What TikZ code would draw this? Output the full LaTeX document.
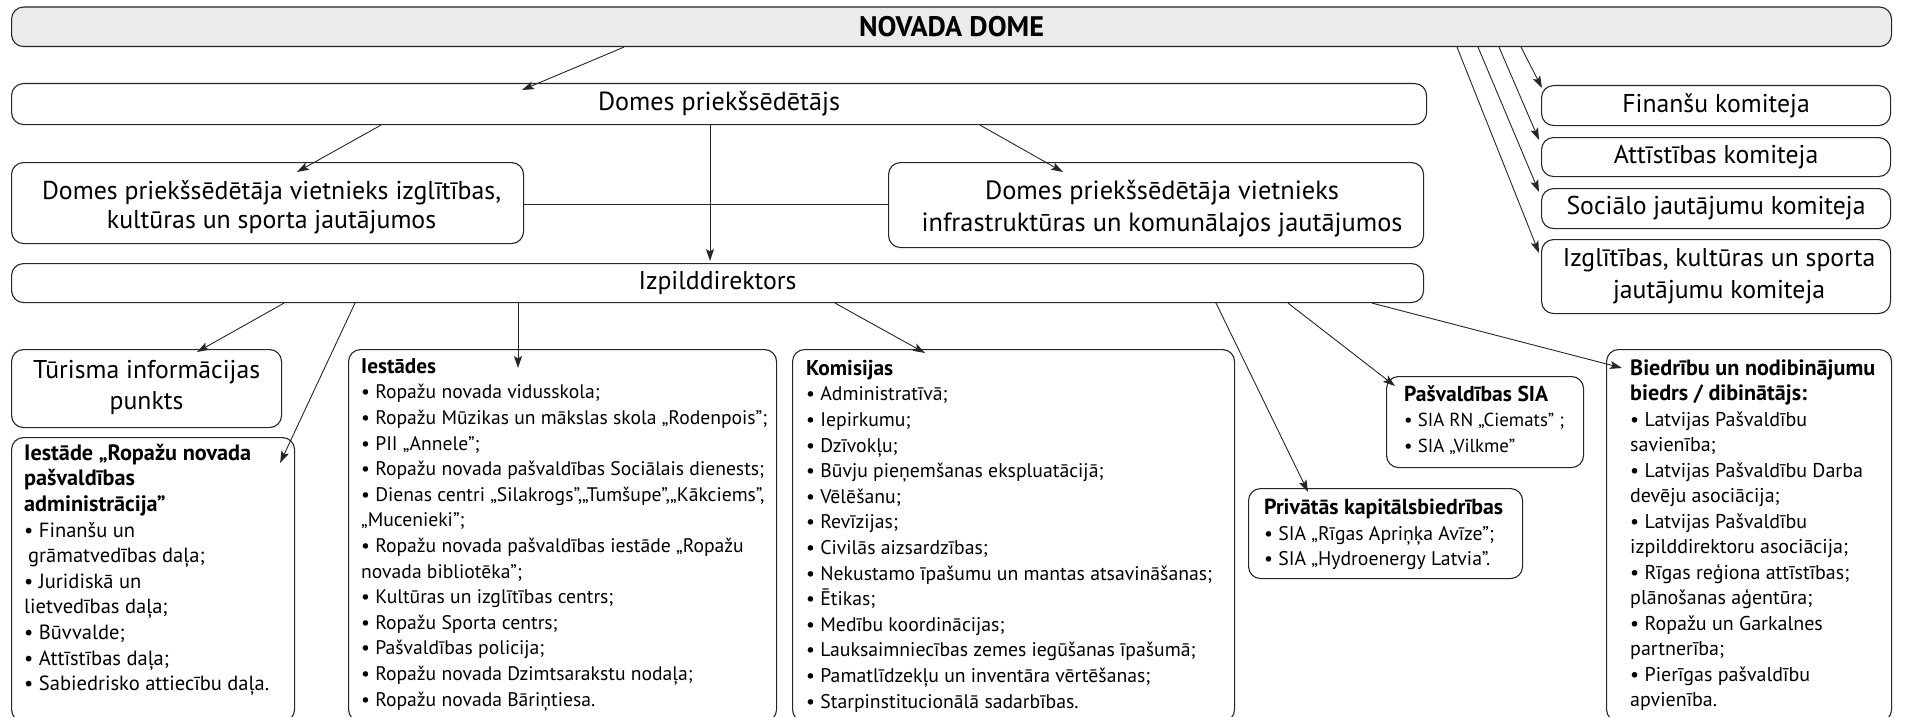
\documentclass[tikz,border=0pt]{standalone}
\usepackage{fontspec}
\setmainfont{PT Sans}
\usetikzlibrary{arrows.meta,calc}
\newlength\tmpw
\newcommand\calib[3]{\settowidth\tmpw{\fontsize{10pt}{12pt}\selectfont #3}\pgfmathsetmacro\calres{10*#2/\tmpw}\global\let#1\calres}
\newcommand\ttl[2]{{\fontsize{#1pt}{25.6pt}\selectfont\bfseries #2}}
\begin{document}
\calib\szDome{185}{\bfseries NOVADA DOME}
\calib\szPred{242}{Domes priekšsēdētājs}
\calib\szVl{459}{Domes priekšsēdētāja vietnieks izglītības,}
\calib\szVr{481}{infrastruktūras un komunālajos jautājumos}
\calib\szIzp{158}{Izpilddirektors}
\calib\szCom{299}{Sociālo jautājumu komiteja}
\calib\szTur{227}{Tūrisma informācijas}
\calib\szAdm{245}{• Sabiedrisko attiecību daļa.}
\calib\szAdmB{227}{\bfseries Iestāde „Ropažu novada}
\calib\szIest{403}{• Ropažu novada pašvaldības Sociālais dienests;}
\calib\szIestB{75}{\bfseries Iestādes}
\calib\szKom{406}{• Nekustamo īpašumu un mantas atsavināšanas;}
\calib\szKomB{87}{\bfseries Komisijas}
\calib\szPriv{230}{• SIA „Rīgas Apriņķa Avīze”;}
\calib\szPrivB{239}{\bfseries Privātās kapitālsbiedrības}
\calib\szPasv{160}{• SIA RN „Ciemats” ;}
\calib\szPasvB{144}{\bfseries Pašvaldības SIA}
\calib\szBied{218}{izpilddirektoru asociācija;}
\calib\szBiedB{245}{\bfseries Biedrību un nodibinājumu}
\begin{tikzpicture}[x=1pt,y=-1pt,
  box/.style={draw=black!85, line width=1.1pt, rounded corners=12pt, anchor=north west, inner sep=0pt},
  arr/.style={draw=black!85, line width=0.9pt, -{Stealth[length=12pt,width=8pt,inset=2.5pt]}},
  plain/.style={draw=black!85, line width=0.9pt},
  ctr/.style={anchor=north, align=center, inner sep=0pt},
  lst/.style={anchor=north west, align=left, inner sep=0pt},
]
\useasboundingbox (0,0) rectangle (1907,717);
\clip (0,0) rectangle (1907,717);

% top level
\node[box, fill=black!8, minimum width=1880pt, minimum height=39.5pt, font={\fontsize{\szDome pt}{27pt}\selectfont\bfseries}] (dome) at (11,6.5) {NOVADA DOME};
\node[box, minimum width=1415pt, minimum height=41pt, font={\fontsize{\szPred pt}{27pt}\selectfont}] (pred) at (11,83) {Domes priekšsēdētājs};
\node[box, minimum width=512pt, minimum height=81pt] (vl) at (11,162) {};
\node[ctr, font={\fontsize{\szVl pt}{29.3pt}\selectfont}] (vlT) at ($(vl.north)+(4,16.5)$) {\strut Domes priekšsēdētāja vietnieks izglītības,\\kultūras un sporta jautājumos};
\node[box, minimum width=535pt, minimum height=85pt] (vr) at (888,162) {};
\node[ctr, font={\fontsize{\szVr pt}{32.7pt}\selectfont}] (vrT) at ($(vr.north)+(6,14)$) {\strut Domes priekšsēdētāja vietnieks\\infrastruktūras un komunālajos jautājumos};
\node[box, minimum width=1412pt, minimum height=39pt, font={\fontsize{\szIzp pt}{27pt}\selectfont}] (izp) at (11,263) {Izpilddirektors};

% committees
\node[box, minimum width=349pt, minimum height=40pt, font={\fontsize{\szCom pt}{27pt}\selectfont}] (fin) at (1541,85) {Finanšu komiteja};
\node[box, minimum width=349pt, minimum height=39pt, font={\fontsize{\szCom pt}{27pt}\selectfont}] (att) at (1541,137) {Attīstības komiteja};
\node[box, minimum width=349pt, minimum height=40pt, font={\fontsize{\szCom pt}{27pt}\selectfont}] (soc) at (1541,188) {Sociālo jautājumu komiteja};
\node[box, minimum width=349pt, minimum height=74pt] (izk) at (1541,239) {};
\node[ctr, font={\fontsize{\szCom pt}{31.7pt}\selectfont}] (izkT) at ($(izk.north)+(3,5.5)$) {\strut Izglītības, kultūras un sporta\\jautājumu komiteja};

% lower boxes
\node[box, minimum width=270pt, minimum height=78pt] (tur) at (11,349) {};
\node[ctr, font={\fontsize{\szTur pt}{30.7pt}\selectfont}] (turT) at ($(tur.north)+(0,8.3)$) {\strut Tūrisma informācijas\\punkts};
\node[box, minimum width=283pt, minimum height=284pt] (adm) at (11,437) {};
\node[box, minimum width=428pt, minimum height=372pt] (iest) at (348,349) {};
\node[box, minimum width=442pt, minimum height=372pt] (kom) at (792,349) {};
\node[box, minimum width=274pt, minimum height=90pt] (priv) at (1248,488) {};
\node[box, minimum width=197pt, minimum height=91pt] (pasv) at (1386,376) {};
\node[box, minimum width=285pt, minimum height=372pt] (bied) at (1606,349) {};

% list texts
\node[lst, font={\fontsize{\szAdm pt}{25.6pt}\selectfont}] (admT) at ($(adm.north west)+(13,5.1)$) {\strut\ttl{\szAdmB}{Iestāde „Ropažu novada}\\\ttl{\szAdmB}{pašvaldības}\\\ttl{\szAdmB}{administrācija”}\\• Finanšu un\\\hspace{4pt}grāmatvedības daļa;\\• Juridiskā un\\lietvedības daļa;\\• Būvvalde;\\• Attīstības daļa;\\• Sabiedrisko attiecību daļa.};
\node[lst, font={\fontsize{\szIest pt}{25.6pt}\selectfont}] (iestT) at ($(iest.north west)+(13,6.1)$) {\strut\ttl{\szIestB}{Iestādes}\\• Ropažu novada vidusskola;\\• Ropažu Mūzikas un mākslas skola „Rodenpois”;\\• PII „Annele”;\\• Ropažu novada pašvaldības Sociālais dienests;\\• Dienas centri „Silakrogs”,„Tumšupe”,„Kākciems”,\\„Mucenieki”;\\• Ropažu novada pašvaldības iestāde „Ropažu\\novada bibliotēka”;\\• Kultūras un izglītības centrs;\\• Ropažu Sporta centrs;\\• Pašvaldības policija;\\• Ropažu novada Dzimtsarakstu nodaļa;\\• Ropažu novada Bāriņtiesa.};
\node[lst, font={\fontsize{\szKom pt}{25.6pt}\selectfont}] (komT) at ($(kom.north west)+(14,8.1)$) {\strut\ttl{\szKomB}{Komisijas}\\• Administratīvā;\\• Iepirkumu;\\• Dzīvokļu;\\• Būvju pieņemšanas ekspluatācijā;\\• Vēlēšanu;\\• Revīzijas;\\• Civilās aizsardzības;\\• Nekustamo īpašumu un mantas atsavināšanas;\\• Ētikas;\\• Medību koordinācijas;\\• Lauksaimniecības zemes iegūšanas īpašumā;\\• Pamatlīdzekļu un inventāra vērtēšanas;\\• Starpinstitucionālā sadarbības.};
\node[lst, font={\fontsize{\szPriv pt}{25.2pt}\selectfont}] (privT) at ($(priv.north west)+(16,9.1)$) {\strut\ttl{\szPrivB}{Privātās kapitālsbiedrības}\\• SIA „Rīgas Apriņķa Avīze”;\\• SIA „Hydroenergy Latvia”.};
\node[lst, font={\fontsize{\szPasv pt}{25.6pt}\selectfont}] (pasvT) at ($(pasv.north west)+(18,7.1)$) {\strut\ttl{\szPasvB}{Pašvaldības SIA}\\• SIA RN „Ciemats” ;\\• SIA „Vilkme”};
\node[lst, font={\fontsize{\szBied pt}{25.5pt}\selectfont}] (biedT) at ($(bied.north west)+(24,8.1)$) {\strut\ttl{\szBiedB}{Biedrību un nodibinājumu}\\\ttl{\szBiedB}{biedrs / dibinātājs:}\\• Latvijas Pašvaldību\\savienība;\\• Latvijas Pašvaldību Darba\\devēju asociācija;\\• Latvijas Pašvaldību\\izpilddirektoru asociācija;\\• Rīgas reģiona attīstības;\\plānošanas aģentūra;\\• Ropažu un Garkalnes\\partnerība;\\• Pierīgas pašvaldību\\apvienība.};

% connectors
\draw[arr] ($(dome.south west)+(613,0)$) -- ($(pred.north west)+(511,7)$);
\draw[arr] ($(pred.south west)+(370,0)$) -- ($(vl.north west)+(286,10)$);
\draw[arr] ($(pred.south west)+(699,0)$) -- ($(izp.north west)+(699,-2)$);
\draw[arr] ($(pred.south west)+(969,0)$) -- ($(vr.north west)+(175,10)$);
\draw[plain] ($(vl.north east)+(0,42)$) -- ($(vr.north west)+(0,42)$);

\draw[arr] ($(dome.south west)+(1510,0)$) -- ($(fin.north west)+(1,3)$);
\draw[arr] ($(dome.south west)+(1488,0)$) -- ($(att.north west)+(-2,3)$);
\draw[arr] ($(dome.south west)+(1467,0)$) -- ($(soc.north west)+(-2,4)$);
\draw[arr] ($(dome.south west)+(1446,0)$) -- ($(izk.north west)+(-2,14)$);

\draw[arr] ($(izp.south west)+(273,0)$) -- ($(tur.north west)+(186,3)$);
\draw[arr] ($(izp.south west)+(344,0)$) -- ($(adm.north east)+(-15,26)$);
\draw[arr] ($(izp.south west)+(507,0)$) -- ($(iest.north west)+(170,19)$);
\draw[arr] ($(izp.south west)+(824,0)$) -- ($(kom.north west)+(133,4)$);
\draw[arr] ($(izp.south west)+(1205,0)$) -- ($(priv.north west)+(60,4)$);
\draw[arr] ($(izp.south west)+(1277,0)$) -- ($(pasv.north west)+(9,10)$);
\draw[arr] ($(izp.south west)+(1361,0)$) -- ($(bied.north west)+(16,19)$);
\end{tikzpicture}
\end{document}
